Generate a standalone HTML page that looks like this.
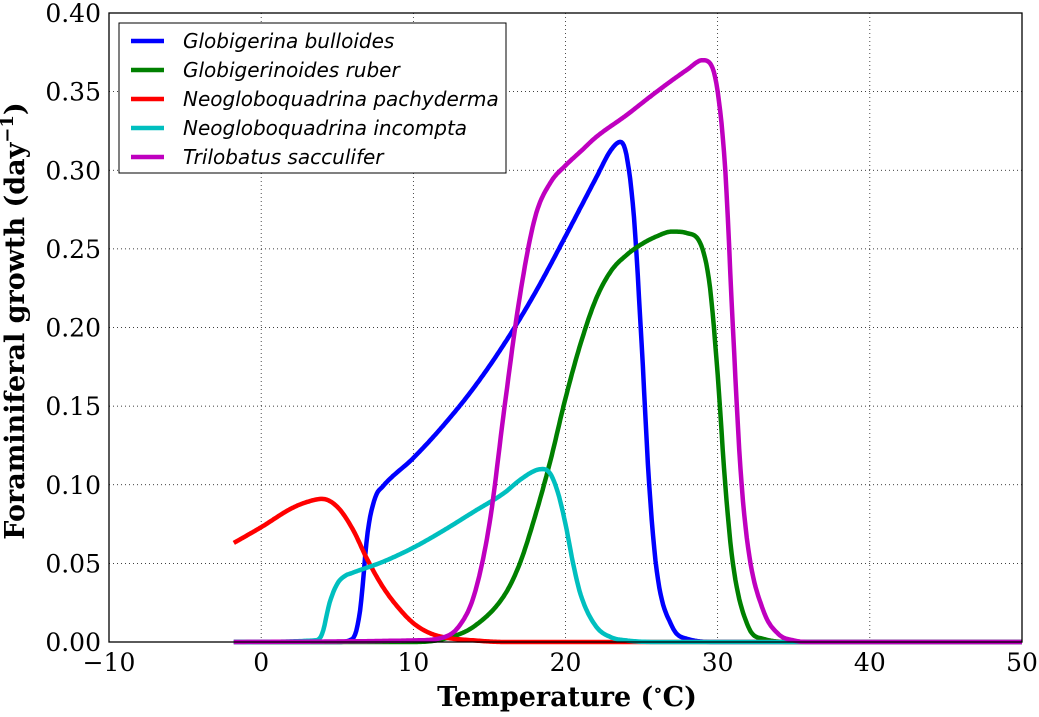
<!DOCTYPE html>
<html><head><meta charset="utf-8"><style>
body{margin:0;background:#fff}
svg text{font-family:"DejaVu Serif","Liberation Serif",serif}
</style></head><body>
<svg id="chart" width="1039" height="712" xmlns="http://www.w3.org/2000/svg">
<g id="grid"></g>
<g id="series"></g>
<rect x="109" y="13" width="913" height="629" fill="none" stroke="#000" stroke-width="1.3"/>
<g id="ticks"></g>
<text x="567" y="706" font-size="27" font-weight="bold" text-anchor="middle">Temperature (<tspan font-size="18" dy="-10">∘</tspan><tspan dy="10">C)</tspan></text>
<text transform="translate(24,321) rotate(-90)" font-size="27" font-weight="bold" text-anchor="middle">Foraminiferal growth (day<tspan font-size="18" dy="-11">−1</tspan><tspan dy="11">)</tspan></text>
<g>
<rect x="119" y="23" width="387" height="150" fill="#fff" stroke="#000" stroke-width="1"/>
<g id="legend-entries"></g>
</g>
</svg>
<script>
const xTicks=[-10,0,10,20,30,40,50];
const yTicks=[0,0.05,0.1,0.15,0.2,0.25,0.3,0.35,0.4];
const names=["Globigerina bulloides","Globigerinoides ruber","Neogloboquadrina pachyderma","Neogloboquadrina incompta","Trilobatus sacculifer"];
const colors=["#0000ff","#008000","#ff0000","#00bfbf","#bf00bf"];
const bullX=[-1.8,5,6,6.5,7,7.5,8,10,12,14,16,18,20,22,23,23.6,24,24.5,25,25.5,26,27,28,30,50];
const bullY=[0,0,0.002,0.02,0.07,0.092,0.099,0.117,0.138,0.162,0.19,0.222,0.258,0.295,0.313,0.318,0.31,0.27,0.19,0.1,0.045,0.01,0.002,0,0];
const rubX=[-1.8,10,12,14,16,17,18,19,20,21,22,23,24,25,26,27,28,29,29.5,30,30.5,31,32,33,35,50];
const rubY=[0,0,0.002,0.01,0.03,0.05,0.08,0.115,0.155,0.19,0.218,0.236,0.246,0.253,0.258,0.261,0.26,0.25,0.225,0.17,0.1,0.05,0.01,0.002,0,0];
const pachX=[-1.8,0,2,3,4,5,6,7,8,9,10,11,12,14,16,50];
const pachY=[0.063,0.073,0.085,0.089,0.091,0.086,0.072,0.052,0.035,0.022,0.012,0.006,0.003,0.001,0,0];
const incX=[-1.8,3.5,4,4.5,5,5.5,6,8,10,12,14,16,17,18,18.5,19,19.5,20,20.5,21,22,23,24,26,50];
const incY=[0,0.001,0.005,0.025,0.037,0.042,0.044,0.051,0.06,0.071,0.083,0.095,0.103,0.109,0.11,0.107,0.095,0.075,0.05,0.03,0.01,0.003,0.001,0,0];
const sacX=[-1.8,10,12,13,14,15,16,17,18,19,20,21,22,24,26,28,29,29.5,30,30.5,31,31.5,32,33,34,35,36,50];
const sacY=[0,0.001,0.003,0.01,0.03,0.075,0.15,0.22,0.27,0.292,0.303,0.312,0.321,0.335,0.35,0.364,0.37,0.368,0.35,0.3,0.2,0.11,0.06,0.02,0.005,0.001,0,0];
const X=v=>109+(v+10)*913/60, Y=v=>642-v*629/0.4;
const NS="http://www.w3.org/2000/svg";
function mk(t,a,p){const e=document.createElementNS(NS,t);for(const k in a)e.setAttribute(k,a[k]);p.appendChild(e);return e;}
function monotone(xs,ys){
 const n=xs.length,d=[],m=new Array(n);
 for(let i=0;i<n-1;i++)d.push((ys[i+1]-ys[i])/(xs[i+1]-xs[i]));
 m[0]=d[0];m[n-1]=d[n-2];
 for(let i=1;i<n-1;i++){m[i]=(d[i-1]*d[i]<=0)?0:(d[i-1]+d[i])/2;}
 for(let i=0;i<n-1;i++){if(d[i]===0){m[i]=0;m[i+1]=0;continue;}
  const a=m[i]/d[i],b=m[i+1]/d[i],s=a*a+b*b;if(s>9){const t=3/Math.sqrt(s);m[i]=t*a*d[i];m[i+1]=t*b*d[i];}}
 const out=[];
 for(let i=0;i<n-1;i++){const h=xs[i+1]-xs[i],N=Math.max(2,Math.ceil(h*12));
  for(let k=0;k<N;k++){const t=k/N,t2=t*t,t3=t2*t;
   const y=(2*t3-3*t2+1)*ys[i]+(t3-2*t2+t)*h*m[i]+(-2*t3+3*t2)*ys[i+1]+(t3-t2)*h*m[i+1];
   out.push([xs[i]+t*h,y]);}}
 out.push([xs[n-1],ys[n-1]]);return out;}
const grid=document.getElementById('grid'),ticks=document.getElementById('ticks');
xTicks.forEach(v=>{
 if(v>-10&&v<50){const l=mk('line',{x1:X(v),x2:X(v),y1:13,y2:642,stroke:'#000','stroke-width':0.7,'stroke-dasharray':'1,3'},grid);
 
 }
 const t=mk('text',{x:X(v),y:671,'font-size':25,'text-anchor':'middle'},ticks);t.textContent=v<0?'−'+(-v):v;
 
 
});
yTicks.forEach(v=>{
 if(v>0&&v<0.4){const l=mk('line',{x1:109,x2:1022,y1:Y(v),y2:Y(v),stroke:'#000','stroke-width':0.7,'stroke-dasharray':'1,3'},grid);
 
 }
 const t=mk('text',{x:101,y:Y(v)+9,'font-size':25,'text-anchor':'end'},ticks);t.textContent=v.toFixed(2);
 
 
});
const sx=[bullX,rubX,pachX,incX,sacX],sy=[bullY,rubY,pachY,incY,sacY];
const keys=['bulloides','ruber','pachyderma','incompta','sacculifer'];
const sg=document.getElementById('series'),lg=document.getElementById('legend-entries');
sx.forEach((xs,i)=>{
 const pts=monotone(xs,sy[i]).map(p=>X(p[0]).toFixed(1)+','+Y(p[1]).toFixed(1)).join(' ');
 const p=mk('polyline',{points:pts,fill:'none',stroke:colors[i],'stroke-width':4.5,'stroke-linejoin':'round'},sg);
 
 
 const y=41+i*29;
 const g=mk('g',{},lg);
 
 
 mk('line',{x1:131,x2:164,y1:y,y2:y,stroke:colors[i],'stroke-width':4.5},g);
 const t=mk('text',{x:183,y:y+7,'font-size':20,'font-style':'italic',style:'font-family:"DejaVu Sans","Liberation Sans",sans-serif'},g);t.textContent=names[i];
});
</script>
</body></html>
